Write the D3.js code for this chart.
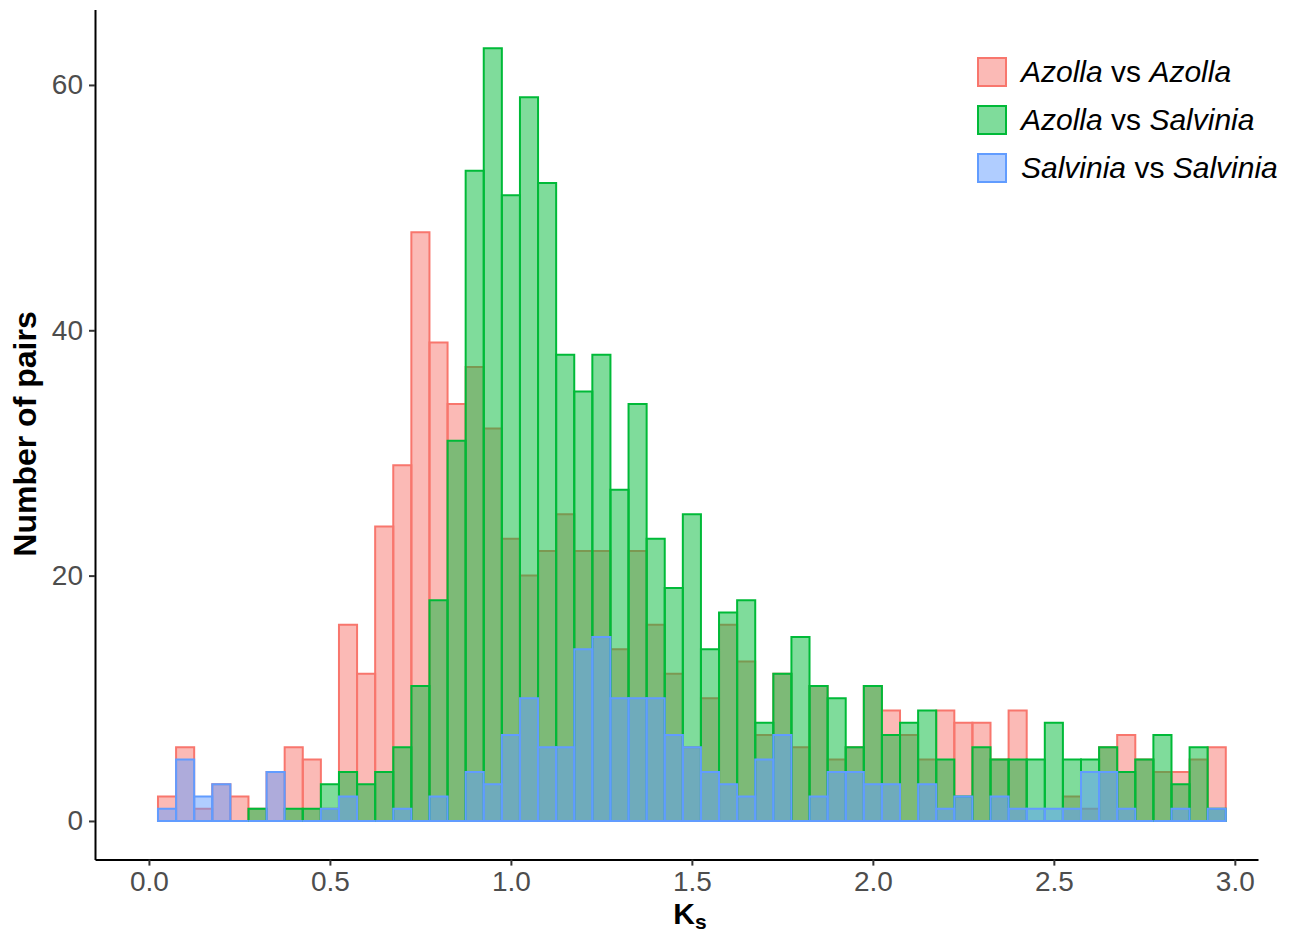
<!DOCTYPE html>
<html>
<head>
<meta charset="utf-8">
<script src="https://cdn.jsdelivr.net/npm/d3@7/dist/d3.min.js"></script>
<style>
  body { margin: 0; background: #fff; }
  text { font-family: "Liberation Sans", Arial, Helvetica, sans-serif; }
</style>
</head>
<body>
<div id="chart"></div>
<script>
// --- data: Ks histogram, bin width 0.05, bin centres ---
const ksMid = [
  0.05, 0.10, 0.15, 0.20, 0.25, 0.30, 0.35, 0.40, 0.45, 0.50,
  0.55, 0.60, 0.65, 0.70, 0.75, 0.80, 0.85, 0.90, 0.95, 1.00,
  1.05, 1.10, 1.15, 1.20, 1.25, 1.30, 1.35, 1.40, 1.45, 1.50,
  1.55, 1.60, 1.65, 1.70, 1.75, 1.80, 1.85, 1.90, 1.95, 2.00,
  2.05, 2.10, 2.15, 2.20, 2.25, 2.30, 2.35, 2.40, 2.45, 2.50,
  2.55, 2.60, 2.65, 2.70, 2.75, 2.80, 2.85, 2.90, 2.95
];
const binWidth = 0.05;

// Azolla vs Azolla
const azollaAzolla = [
  2, 6, 1, 3, 2, 1, 4, 6, 5, 1,
  16, 12, 24, 29, 48, 39, 34, 37, 32, 23,
  20, 22, 25, 22, 22, 14, 22, 16, 12, 6,
  10, 16, 13, 7, 12, 6, 11, 5, 6, 11,
  9, 7, 5, 9, 8, 8, 5, 9, 0, 0,
  2, 1, 6, 7, 5, 4, 4, 5, 6
];
// Azolla vs Salvinia
const azollaSalvinia = [
  0, 0, 0, 0, 0, 1, 0, 1, 1, 3,
  4, 3, 4, 6, 11, 18, 31, 53, 63, 51,
  59, 52, 38, 35, 38, 27, 34, 23, 19, 25,
  14, 17, 18, 8, 12, 15, 11, 10, 6, 11,
  7, 8, 9, 5, 2, 6, 5, 5, 5, 8,
  5, 5, 6, 4, 5, 7, 3, 6, 1
];
// Salvinia vs Salvinia
const salviniaSalvinia = [
  1, 5, 2, 3, 0, 0, 4, 0, 0, 1,
  2, 0, 0, 1, 0, 2, 0, 4, 3, 7,
  10, 6, 6, 14, 15, 10, 10, 10, 7, 6,
  4, 3, 2, 5, 7, 0, 2, 4, 4, 3,
  3, 0, 3, 1, 2, 0, 2, 1, 1, 1,
  1, 4, 4, 1, 0, 0, 1, 0, 1
];

const xTicks = [0, 0.5, 1, 1.5, 2, 2.5, 3];
const yTicks = [0, 20, 40, 60];

const seriesColors = ["#F8766D", "#00BA38", "#619CFF"];
// legend label pieces: [text, italic?]
const legendLabels = [
  [["Azolla", true], [" vs ", false], ["Azolla", true]],
  [["Azolla", true], [" vs ", false], ["Salvinia", true]],
  [["Salvinia", true], [" vs ", false], ["Salvinia", true]]
];

const series = [azollaAzolla, azollaSalvinia, salviniaSalvinia];

// --- canvas ---
const width = 1296, height = 935;
const svg = d3.select("#chart").append("svg")
    .attr("width", width)
    .attr("height", height);

// panel edges (px)
const panel = { left: 95, right: 1258, top: 9.5, bottom: 859.6 };

const x = d3.scaleLinear()
    .domain([-0.149, 3.064])
    .range([panel.left, panel.right]);
const y = d3.scaleLinear()
    .domain([-3.15, 66.15])
    .range([panel.bottom, panel.top]);

// --- bars (paths so zero-height bins still show their outline) ---
series.forEach((vals, si) => {
    const g = svg.append("g");
    g.selectAll("path")
        .data(ksMid.map((m, i) => ({ mid: m, n: vals[i] })))
        .enter()
        .append("path")
        .attr("d", d => {
            const x0 = x(d.mid - binWidth / 2), x1 = x(d.mid + binWidth / 2);
            const y0 = y(0), y1 = y(d.n);
            return `M${x0},${y0}V${y1}H${x1}V${y0}Z`;
        })
        .attr("fill", seriesColors[si])
        .attr("fill-opacity", 0.5)
        .attr("stroke", seriesColors[si])
        .attr("stroke-width", 2);
});

// --- axes ---
const xAxis = svg.append("g")
    .attr("transform", `translate(0,${panel.bottom})`)
    .call(d3.axisBottom(x).tickValues(xTicks).tickFormat(d3.format(".1f"))
        .tickSizeInner(6).tickSizeOuter(0).tickPadding(6));
const yAxis = svg.append("g")
    .attr("transform", `translate(${panel.left},0)`)
    .call(d3.axisLeft(y).tickValues(yTicks)
        .tickSizeInner(6).tickSizeOuter(0).tickPadding(6));

[xAxis, yAxis].forEach(ax => {
    ax.select(".domain").attr("stroke", "#000").attr("stroke-width", 2);
    ax.selectAll(".tick line").attr("stroke", "#333").attr("stroke-width", 2);
    ax.selectAll(".tick text")
        .attr("fill", "#4D4D4D")
        .style("font-size", "28px")
        .style("font-family", "'Liberation Sans', Arial, sans-serif");
});

// --- axis titles ---
const xTitle = svg.append("text")
    .attr("x", 690)
    .attr("y", 924)
    .attr("text-anchor", "middle")
    .style("font-size", "30px")
    .style("font-weight", "bold");
xTitle.append("tspan").text("K");
xTitle.append("tspan").attr("dy", 5).style("font-size", "21px").text("s");

svg.append("text")
    .attr("transform", "translate(36,434) rotate(-90)")
    .attr("text-anchor", "middle")
    .style("font-size", "32px")
    .style("font-weight", "bold")
    .text("Number of pairs");

// --- legend ---
const legend = svg.append("g").attr("transform", "translate(977,57)");
legendLabels.forEach((parts, i) => {
    const row = legend.append("g").attr("transform", `translate(0,${i * 48})`);
    row.append("rect")
        .attr("x", 1).attr("y", 1)
        .attr("width", 28).attr("height", 28)
        .attr("fill", seriesColors[i])
        .attr("fill-opacity", 0.5)
        .attr("stroke", seriesColors[i])
        .attr("stroke-width", 2);
    const t = row.append("text")
        .attr("x", 44)
        .attr("y", 25)
        .attr("xml:space", "preserve")
        .style("font-size", "30px")
        .attr("fill", "#000");
    parts.forEach(p => {
        t.append("tspan")
            .style("font-style", p[1] ? "italic" : "normal")
            .text(p[0]);
    });
});
</script>
</body>
</html>
